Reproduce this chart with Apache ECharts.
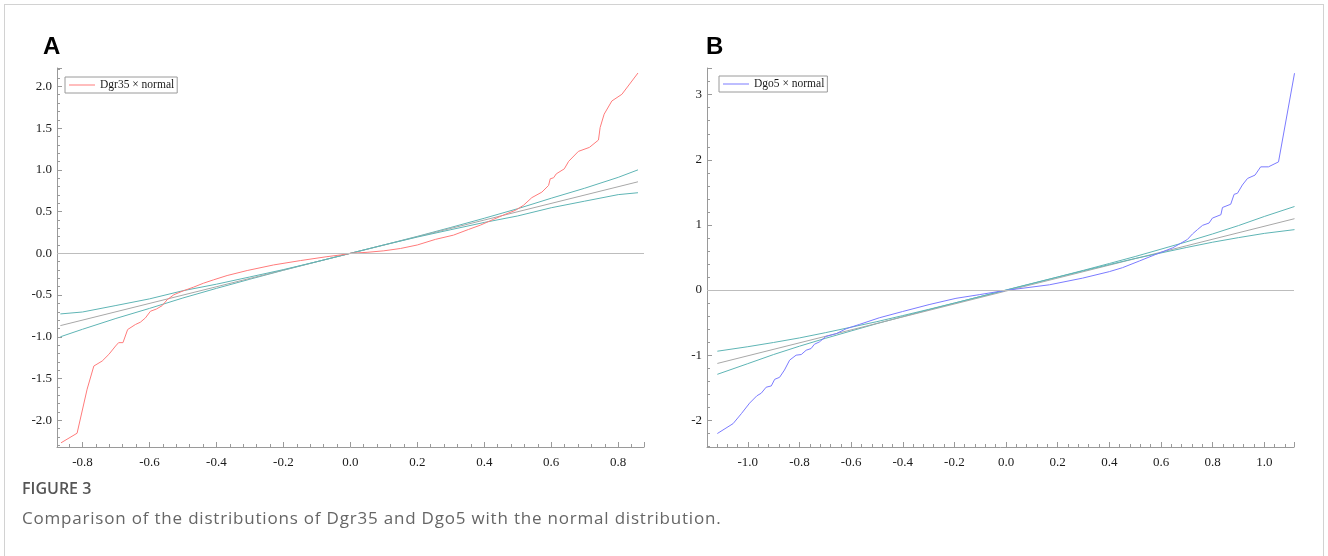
<!DOCTYPE html>
<html>
<head>
<meta charset="utf-8">
<script src="https://cdn.jsdelivr.net/npm/echarts@6/dist/echarts.min.js"></script>
<style>
    html, body { margin: 0; padding: 0; background: #fff; }
    .page { position: relative; width: 1328px; height: 556px; overflow: hidden; }
    .frame {
        position: absolute; left: 4px; top: 4px; width: 1320px; height: 600px;
        border: 1px solid #d2d2d2; box-sizing: border-box;
    }
    #chart { position: absolute; left: 0; top: 0; width: 1328px; height: 556px; }
    .fig-title {
        position: absolute; left: 22px; top: 477px;
        font: 600 16px "Open Sans", sans-serif; color: #555; line-height: 22px;
    }
    .fig-caption {
        position: absolute; left: 22px; top: 506px; white-space: nowrap;
        font: 17px "Open Sans", sans-serif; color: #666; line-height: 24px;
        letter-spacing: 0.8px;
    }
</style>
</head>
<body>
<div class="page">
    <div class="frame"></div>
    <div id="chart"></div>
    <div class="fig-title">FIGURE 3</div>
    <div class="fig-caption">Comparison of the distributions of Dgr35 and Dgo5 with the normal distribution.</div>
</div>
<script>
// Panel A: Dgr35 against normal
const redXA = [-0.864, -0.816, -0.786, -0.766, -0.741, -0.721, -0.701, -0.692, -0.679, -0.665,
    -0.642, -0.627, -0.612, -0.597, -0.579, -0.562, -0.547, -0.527, -0.498, -0.468,
    -0.438, -0.408, -0.368, -0.308, -0.229, -0.149, -0.070, -0.030, 0, 0.05,
    0.1, 0.15, 0.2, 0.254, 0.308, 0.353, 0.388, 0.428, 0.463, 0.493,
    0.517, 0.542, 0.572, 0.592, 0.597, 0.607, 0.615, 0.639, 0.652, 0.681,
    0.714, 0.741, 0.746, 0.758, 0.781, 0.811, 0.859];
const redYA = [-2.27, -2.155, -1.627, -1.35, -1.29, -1.21, -1.11, -1.07, -1.07, -0.913,
    -0.853, -0.825, -0.774, -0.694, -0.667, -0.627, -0.556, -0.496, -0.448, -0.405,
    -0.357, -0.317, -0.266, -0.206, -0.139, -0.087, -0.040, -0.020, 0, 0.012,
    0.03, 0.058, 0.1, 0.167, 0.218, 0.286, 0.337, 0.408, 0.468, 0.515,
    0.575, 0.667, 0.733, 0.813, 0.893, 0.905, 0.952, 1.012, 1.102, 1.221,
    1.269, 1.357, 1.507, 1.667, 1.825, 1.905, 2.16];

const normXA = [-0.866, -0.8, -0.7, -0.6, -0.5, -0.4, -0.3, -0.2, -0.1, 0,
    0.1, 0.2, 0.3, 0.4, 0.5, 0.6, 0.7, 0.8, 0.859];
const bandHiA = [-1.0, -0.91, -0.78, -0.66, -0.535, -0.42, -0.31, -0.203, -0.1, 0,
    0.1, 0.203, 0.31, 0.42, 0.535, 0.66, 0.78, 0.91, 1.0];
const bandLoA = [-0.726, -0.703, -0.625, -0.546, -0.448, -0.37, -0.283, -0.195, -0.1, 0,
    0.1, 0.195, 0.283, 0.37, 0.448, 0.546, 0.625, 0.703, 0.726];
const refXA = [-0.866, 0.859];
const refYA = [-0.866, 0.857];

// Panel B: Dgo5 against normal
const blueXB = [-1.118, -1.057, -1.025, -0.993, -0.965, -0.948, -0.929, -0.909, -0.896, -0.877,
    -0.858, -0.838, -0.813, -0.793, -0.774, -0.755, -0.742, -0.723, -0.697, -0.658,
    -0.619, -0.568, -0.491, -0.401, -0.298, -0.194, -0.104, -0.026, 0.039, 0.168,
    0.296, 0.4, 0.451, 0.516, 0.580, 0.645, 0.677, 0.702, 0.722, 0.741,
    0.761, 0.786, 0.799, 0.832, 0.838, 0.870, 0.883, 0.896, 0.915, 0.935,
    0.964, 0.986, 1.016, 1.055, 1.117];
const blueYB = [-2.203, -2.051, -1.898, -1.736, -1.624, -1.584, -1.492, -1.472, -1.371, -1.34,
    -1.228, -1.076, -1.0, -0.99, -0.924, -0.898, -0.832, -0.797, -0.711, -0.67,
    -0.594, -0.528, -0.426, -0.33, -0.223, -0.127, -0.071, -0.02, 0.015, 0.081,
    0.183, 0.283, 0.344, 0.446, 0.548, 0.648, 0.72, 0.776, 0.862, 0.928,
    0.994, 1.029, 1.105, 1.157, 1.268, 1.318, 1.47, 1.486, 1.613, 1.714,
    1.765, 1.892, 1.892, 1.968, 3.33];

const normXB = [-1.118, -1.0, -0.9, -0.8, -0.7, -0.6, -0.5, -0.4, -0.3, -0.2, -0.1, 0,
    0.1, 0.2, 0.3, 0.4, 0.5, 0.6, 0.7, 0.8, 0.9, 1.0, 1.117];
const bandHiB = [-1.294, -1.13, -0.99, -0.862, -0.742, -0.628, -0.515, -0.408, -0.303, -0.201, -0.1, 0,
    0.1, 0.201, 0.303, 0.408, 0.515, 0.628, 0.742, 0.862, 0.99, 1.13, 1.283];
const bandLoB = [-0.939, -0.87, -0.805, -0.735, -0.655, -0.57, -0.485, -0.392, -0.297, -0.199, -0.1, 0,
    0.1, 0.199, 0.297, 0.392, 0.485, 0.57, 0.655, 0.735, 0.805, 0.87, 0.928];
const refXB = [-1.118, 1.117];
const refYB = [-1.127, 1.096];

const zip = (xs, ys) => xs.map((x, i) => [x, ys[i]]);

const serif = 'Liberation Serif';
const axisGray = '#9a9a9a';
const tealColor = '#5fb5b5';
const refGray = '#a8a8a8';

// 公共坐标轴样式
function makeAxis(gridIndex, min, max, step, digits, isY) {
    return {
        type: 'value',
        gridIndex: gridIndex,
        min: min,
        max: max,
        minInterval: step,
        maxInterval: step,
        splitLine: { show: false },
        axisLine: { show: true, onZero: false, lineStyle: { color: axisGray, width: 1 } },
        axisTick: { show: true, inside: true, length: 5, lineStyle: { color: axisGray } },
        minorTick: { show: true, splitNumber: 5, length: 3, lineStyle: { color: axisGray } },
        axisLabel: {
            showMinLabel: false,
            showMaxLabel: false,
            margin: isY ? 5 : 9,
            fontFamily: serif,
            fontSize: 13,
            color: '#1a1a1a',
            formatter: v => v.toFixed(digits)
        }
    };
}

function line(name, data, color, xi) {
    return {
        name: name,
        type: 'line',
        xAxisIndex: xi,
        yAxisIndex: xi,
        data: data,
        showSymbol: false,
        symbol: 'none',
        silent: true,
        itemStyle: { color: color },
        lineStyle: { color: color, width: 1 },
        emphasis: { disabled: true }
    };
}

const zeroLine = {
    silent: true,
    symbol: 'none',
    label: { show: false },
    lineStyle: { color: '#bdbdbd', width: 1, type: 'solid' },
    data: [{ yAxis: 0 }]
};

const chart = echarts.init(document.getElementById('chart'));

const redSeries = line('Dgr35 × normal', zip(redXA, redYA), '#ff7b7b', 0);
redSeries.markLine = zeroLine;
const blueSeries = line('Dgo5 × normal', zip(blueXB, blueYB), '#7b7bff', 1);
blueSeries.markLine = zeroLine;

const legendBase = {
    orient: 'horizontal',
    icon: 'rect',
    itemWidth: 26,
    itemHeight: 1,
    itemGap: 4,
    padding: [2, 3, 2, 4],
    borderColor: '#9a9a9a',
    borderWidth: 1,
    backgroundColor: '#fff',
    selectedMode: false,
    textStyle: { fontFamily: serif, fontSize: 11.5, color: '#1a1a1a' }
};

chart.setOption({
    animation: false,
    grid: [
        { left: 57, right: 684, top: 68, bottom: 109 },
        { left: 707, right: 34, top: 68, bottom: 109 }
    ],
    xAxis: [
        makeAxis(0, -0.876, 0.877, 0.2, 1, false),
        makeAxis(1, -1.158, 1.115, 0.2, 1, false)
    ],
    yAxis: [
        makeAxis(0, -2.32, 2.22, 0.5, 1, true),
        makeAxis(1, -2.41, 3.41, 1, 0, true)
    ],
    legend: [
        Object.assign({}, legendBase, { left: 65, top: 77, data: ['Dgr35 × normal'] }),
        Object.assign({}, legendBase, { left: 719, top: 76, data: ['Dgo5 × normal'] })
    ],
    series: [
        line('normA_hi', zip(normXA, bandHiA), tealColor, 0),
        line('normA_ref', zip(refXA, refYA), refGray, 0),
        line('normA_lo', zip(normXA, bandLoA), tealColor, 0),
        redSeries,
        line('normB_hi', zip(normXB, bandHiB), tealColor, 1),
        line('normB_ref', zip(refXB, refYB), refGray, 1),
        line('normB_lo', zip(normXB, bandLoB), tealColor, 1),
        blueSeries
    ],
    graphic: [
        { type: 'text', x: 43, y: 47, style: { text: 'A', font: 'bold 24px "Liberation Sans"', fill: '#000', verticalAlign: 'middle' } },
        { type: 'text', x: 706, y: 47, style: { text: 'B', font: 'bold 24px "Liberation Sans"', fill: '#000', verticalAlign: 'middle' } }
    ]
});
</script>
</body>
</html>
